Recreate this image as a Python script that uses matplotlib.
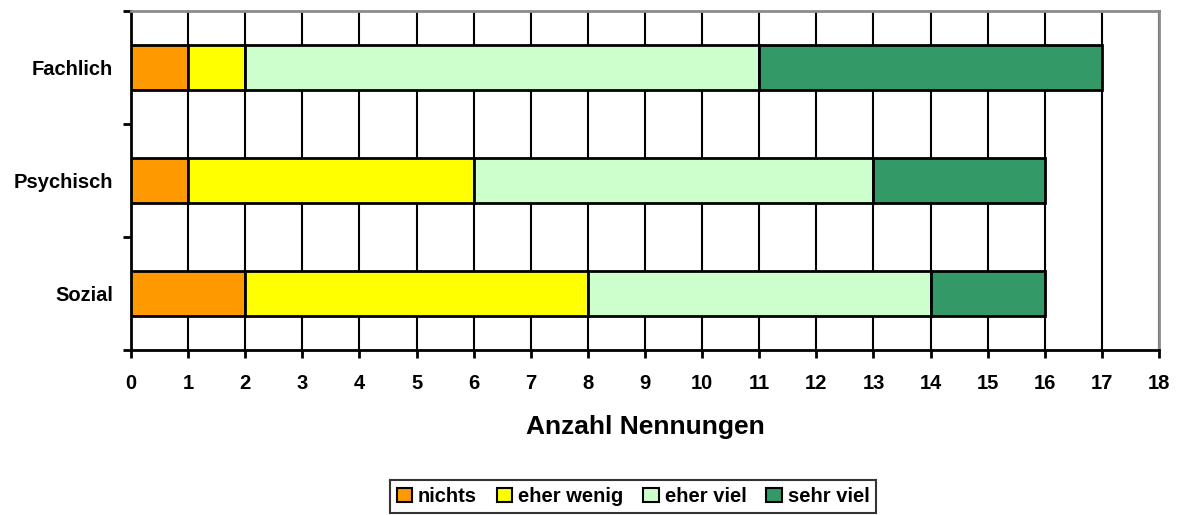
import matplotlib
matplotlib.use("Agg")
import matplotlib.pyplot as plt
import numpy as np

plt.rcParams['font.family'] = ['Liberation Sans', 'DejaVu Sans']
plt.rcParams['font.weight'] = 'bold'

categories = ['Fachlich', 'Psychisch', 'Sozial']
series = ['nichts', 'eher wenig', 'eher viel', 'sehr viel']
nichts = [1, 1, 2]
eher_wenig = [1, 5, 6]
eher_viel = [9, 7, 6]
sehr_viel = [6, 3, 2]
colors = ['#FF9900', '#FFFF00', '#CCFFCC', '#339966']

fig = plt.figure(figsize=(11.81, 5.15), dpi=100)
ax = fig.add_axes([131 / 1181, 1 - 350 / 515, (1159 - 131) / 1181, (350 - 11) / 515])

ypos = np.arange(len(categories))
left = np.zeros(len(categories))
for name, vals, c in zip(series, [nichts, eher_wenig, eher_viel, sehr_viel], colors):
    ax.barh(ypos, vals, left=left, height=0.4, color=c, edgecolor='black',
            linewidth=2, label=name, zorder=3)
    left += np.array(vals)

ax.set_xlim(0, 18)
ax.set_ylim(2.5, -0.5)
ax.set_xticks(range(0, 19))
ax.xaxis.grid(True, color='black', linewidth=1.5, zorder=0)
ax.set_axisbelow(True)

# Trennstriche zwischen den Kategorien, Beschriftung in der Mitte
ax.set_yticks([-0.5, 0.5, 1.5, 2.5])
ax.set_yticklabels([])
ax.set_yticks(ypos, minor=True)
ax.set_yticklabels(categories, minor=True, fontsize=14.5, fontweight='bold')
ax.tick_params(axis='y', which='minor', length=0, pad=13)
ax.tick_params(axis='y', which='major', length=6, width=2, direction='out')
ax.tick_params(axis='x', length=6, width=2, direction='out', labelsize=14.5, pad=11)

for s in ['left', 'bottom']:
    ax.spines[s].set_linewidth(2)
    ax.spines[s].set_color('black')
for s in ['top', 'right']:
    ax.spines[s].set_linewidth(2)
    ax.spines[s].set_color('#8c8c8c')

ax.set_xlabel('Anzahl Nennungen', fontsize=19, fontweight='bold', labelpad=16)

leg = fig.legend(loc='lower center', bbox_to_anchor=(633 / 1181, 0.0), ncol=4,
                 frameon=True, fancybox=False, edgecolor='black',
                 prop={'size': 14.5, 'weight': 'bold'},
                 handlelength=0.75, handleheight=0.75, handletextpad=0.3,
                 columnspacing=1.0, borderpad=0.35, borderaxespad=0.1)
leg.get_frame().set_linewidth(1.5)
for h in leg.legend_handles:
    h.set_linewidth(1.5)

fig.savefig('out.png', dpi=100)
